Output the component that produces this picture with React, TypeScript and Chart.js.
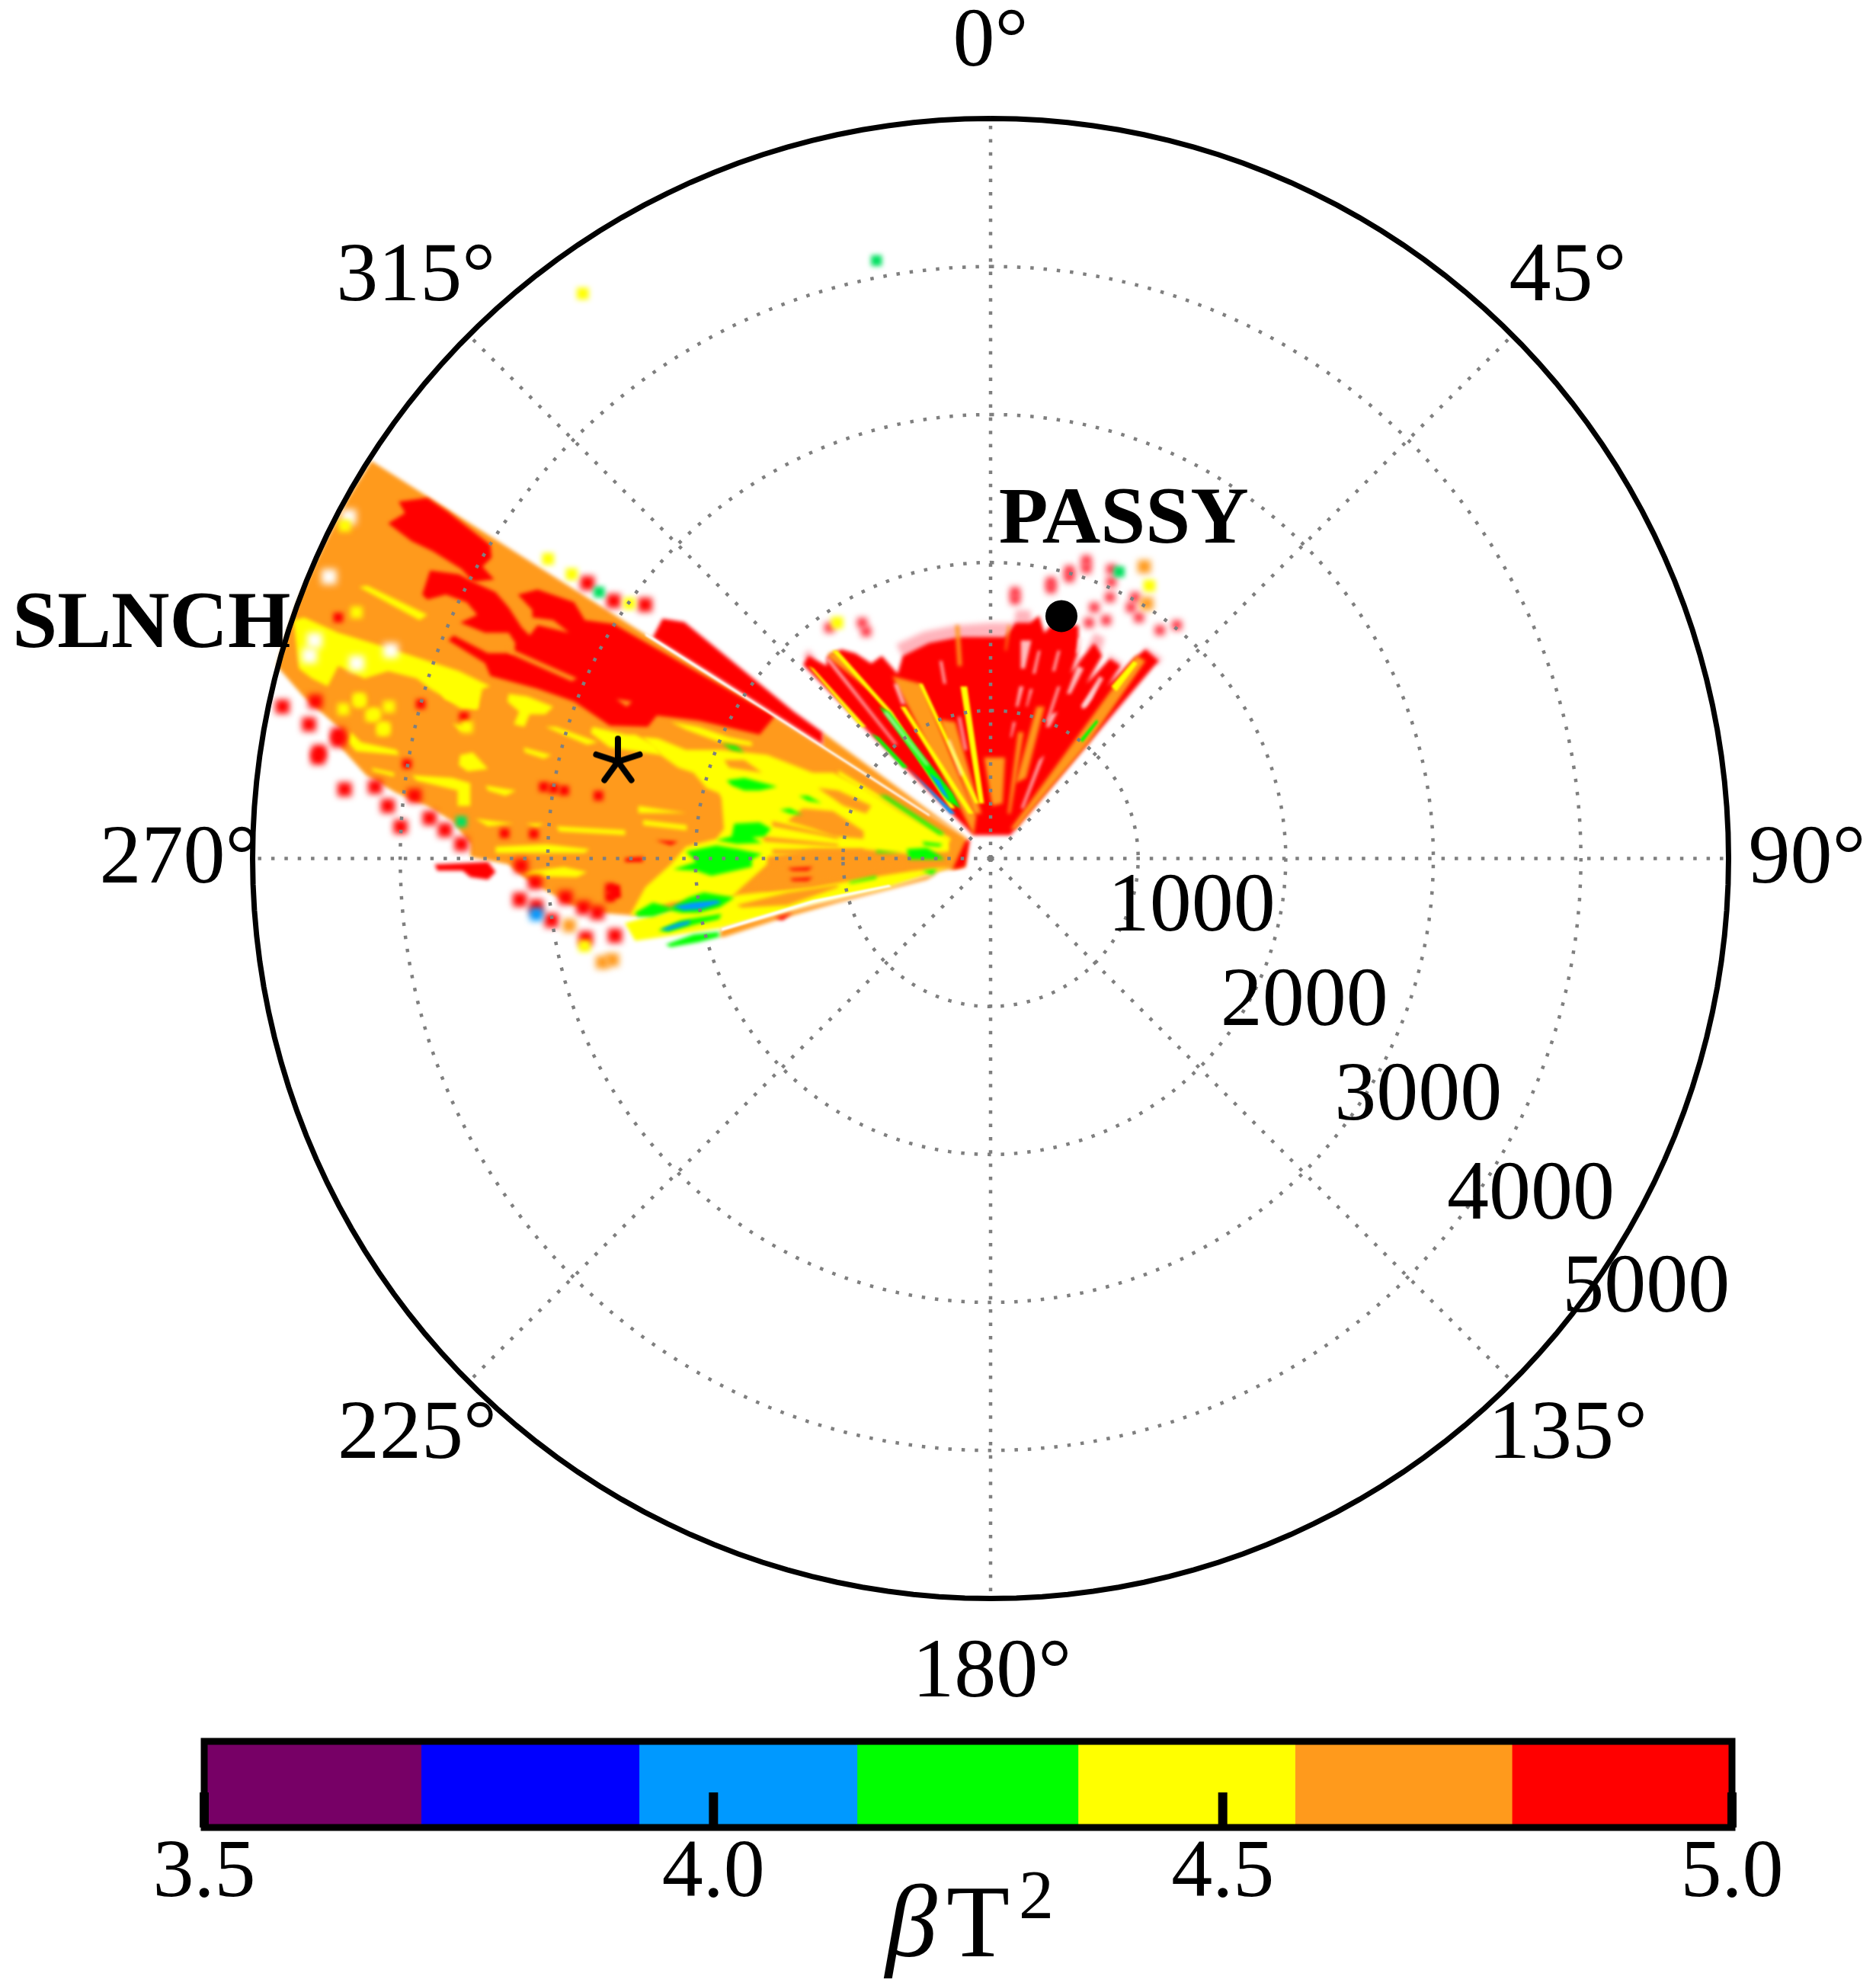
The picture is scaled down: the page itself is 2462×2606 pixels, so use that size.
import React, { useEffect, useRef } from "react";
import { Chart, registerables } from "chart.js";

Chart.register(...registerables);

// ---------- polar axes ----------
const angleTicks = [0, 45, 90, 135, 180, 225, 270, 315];
const rangeTicks = [1000, 2000, 3000, 4000, 5000];

// ---------- heat-map regions: flat east,north lists in metres from the radar ----------
const orangeBase = [
  [-158,142,-4186,2687,-4350,2426,-4514,2107,-4679,1752,-4777,1468,-4827,1302,-4650,1100,-4393,871,-4393,751,-4221,562,-4014,441,-3808,355,-3636,252,-3515,97,-3515,11,-3257,-40,-3154,-126,-2982,-229,-2827,-315,-2638,-367,-2432,-384,-1720,-331,-191,-59],
  [-1128,852,-158,142,-1128,755],
];
const redLeft = [
  [-4072,2265,-3957,2334,-4001,2411,-3806,2437,-3664,2342,-3379,2119,-3370,2033,-3433,1972,-3353,1886,-3495,1869,-3575,1955,-3770,2076,-3912,2144],
  [-3841,1783,-3788,1947,-3592,1921,-3495,1869,-3344,1800,-3255,1697,-3166,1560,-3113,1508,-3059,1577,-2846,1525,-2953,1611,-3095,1628,-3095,1680,-3193,1783,-3059,1818,-2811,1732,-2739,1611,-2544,1585,-1452,960,-1555,837,-1744,880,-1968,932,-2252,966,-2312,889,-2570,897,-2811,1061,-3059,1147,-3379,1233,-3415,1319,-3664,1474,-3628,1508,-3397,1388,-3219,1388,-3210,1456,-3255,1525,-3415,1525,-3584,1594,-3468,1646,-3539,1732,-3681,1783,-3806,1749],
  [-2279,1495,-2213,1621,-2065,1598,-1325,994,-1128,852,-1128,770,-1522,1020,-1884,1250],
  [-3756,-40,-3395,-23,-3343,-92,-3395,-143,-3515,-126,-3567,-83,-3739,-83],
  [-1418,-264,-1228,-229,-1228,-264,-1366,-298],
  [-2570,-178,-2501,-178,-2493,-264,-2570,-281],
];
const yellowLeft = [
  [-4268,1835,-4214,1843,-3806,1646,-3859,1611],
  [-4712,1611,-4641,1628,-4410,1525,-4126,1439,-3859,1353,-3592,1267,-3379,1164,-3433,1147,-3468,1009,-3575,1009,-3699,1095,-3788,1147,-3877,1216,-4072,1267,-4232,1216,-4410,1302,-4481,1164,-4588,1216,-4676,1284],
  [-3255,1112,-3130,1095,-2953,1026,-3006,975,-3113,975,-3148,889,-3219,906,-3184,992,-3264,1061],
  [-3006,889,-2935,889,-2651,786,-2722,768],
  [-2686,889,-2455,837,-2398,837,-2260,768,-2226,700,-2346,717,-2570,751,-2700,850],
  [-4324,854,-4255,785,-4014,734,-3997,699,-4289,725,-4341,785],
  [-4186,613,-4031,579,-4031,553,-4169,588],
  [-3911,562,-3636,545,-3515,510,-3515,355,-3601,355,-3601,459,-3877,527],
  [-3412,493,-3206,459,-3275,424,-3395,459],
  [-3584,699,-3498,717,-3395,605,-3533,588,-3593,631],
  [-3154,751,-2965,699,-3017,674,-3145,717],
  [-3636,914,-3515,880,-3584,863],
  [-3481,269,-3223,235,-3395,218],
  [-3137,235,-3017,235,-3069,209],
  [-2931,218,-2466,192,-2466,158,-2914,183],
  [-3343,80,-2999,97,-2707,63,-2741,37,-3343,37],
  [-3154,-92,-2879,-57,-2724,-92,-2793,-126,-3120,-118],
  [-3739,1181,-3464,1129,-3464,1009,-3567,1043,-3687,1078],
  [-2377,355,-2213,331,-2048,308,-2377,308],
  [-2344,260,-2048,225,-2048,190,-2344,225],
  [-2346,820,-2243,811,-2054,734,-1813,734,-1504,700,-1194,579,-1056,579,-850,476,-609,321,-265,132,-265,46,-540,29,-850,63,-1194,63,-1504,12,-1504,-40,-1676,-195,-1744,-264,-2157,-298,-2398,-384,-2432,-384,-2329,-195,-2157,-40,-2054,80,-1848,132,-1796,201,-1813,407,-1830,442,-1916,476,-2002,579,-2106,614,-2226,700],
  [-2157,923,-1968,889,-1762,820,-1607,786,-1607,760,-1848,794,-2054,872],
  [-2467,-436,-2157,-350,-1710,-246,-1194,-195,-575,-92,-265,-57,-678,-195,-1194,-298,-1813,-470,-2278,-539,-2398,-556],
  [-1022,596,-265,132,-265,115,-1022,562],
];
const orangeOverlay = [
  [-3255,1422,-2791,1216,-2829,1198,-3255,1388],
  [-2526,1078,-2420,1061,-2455,1026],
  [-1796,665,-1658,665,-1538,579,-1762,614],
  [-1160,476,-1022,459,-798,356,-833,304,-988,356],
  [-1263,338,-1056,321,-850,184,-850,132,-1056,149,-1194,201,-1366,252],
  [-1469,252,-1022,149,-1022,132,-1469,218],
  [-1538,149,-1022,98,-1022,80,-1521,115],
  [-1469,63,-850,63,-850,29,-1469,29],
  [-1607,-178,-1504,-74,-1366,-23,-1022,12,-558,-23,-558,-74,-850,-100,-1194,-178,-1504,-212],
  [-1710,-315,-1366,-229,-1022,-178,-1022,-195,-1366,-315,-1676,-332],
  [-265,115,-145,132,-162,-57,-265,-74],
  [-1830,-530,-1813,-479,-1194,-315,-678,-195,-334,-92,-420,-143,-1022,-298,-1452,-418,-1796,-530],
];
const redAccents = [
  [-1366,-66,-1194,-57,-1228,-83,-1332,-83],
  [-1349,-135,-1194,-126,-1228,-152,-1332,-152],
  [-1452,-401,-1332,-367,-1400,-418],
  [-2260,123,-2106,115,-2157,89],
  [-2467,3,-2346,12,-2346,-23,-2467,-23],
  [-162,115,-128,132,-162,-57,-248,-74],
];
const greenLeft = [
  [-1779,528,-1658,545,-1435,485,-1555,459,-1658,459,-1744,493],
  [-1813,777,-1710,760,-1658,717,-1744,734],
  [-1289,424,-1228,424,-1134,373,-1228,390],
  [-1418,330,-1349,338,-1263,295,-1349,304],
  [-1727,235,-1555,244,-1478,201,-1521,149,-1607,141,-1538,106,-1710,98,-1848,123,-1744,149],
  [-2054,46,-1848,89,-1693,63,-1538,29,-1607,-6,-1607,-57,-1882,-117,-1985,-83,-2140,-74,-1985,-23,-2037,29],
  [-747,433,-695,424,-300,166,-334,158],
  [-558,63,-420,72,-351,29,-300,-6,-540,-6],
  [-454,115,-317,98,-334,80,-437,89],
  [-764,55,-592,37,-764,37],
  [-454,-83,-351,-74,-386,-109],
  [-953,-160,-764,-117,-764,-135,-936,-169],
  [-2398,-367,-2278,-298,-2157,-332,-2037,-264,-1934,-229,-1727,-264,-1830,-332,-1968,-367,-2088,-367,-2157,-350,-2278,-393,-2381,-393],
  [-2243,-487,-2088,-418,-1813,-375,-1830,-410,-1985,-444,-2174,-496],
  [-2192,-582,-2002,-513,-1830,-496,-1830,-530,-1968,-565,-2157,-599],
];
const blueLeft = [
  [-2140,-324,-2020,-298,-1848,-281,-1813,-298,-1951,-341,-2071,-350],
  [-2226,-479,-2106,-436,-2020,-418,-2037,-444,-2174,-487],
];
const whiteLeft = [
  [-2328,1525,-1522,1016,-404,297,-404,285,-1522,1000,-2328,1505],
  [-1813,-470,-1194,-281,-678,-178,-661,-190,-1194,-301,-1813,-491],
];
const pinkRight = [
  [-629,1447,-442,1533,-229,1576,20,1593,171,1593,180,1679,277,1679,295,1585,197,1499,-194,1490,-585,1361],
  [1059,1430,1175,1352,1139,1301,1050,1387],
  [801,1387,908,1318,855,1266],
  [713,1524,784,1490,748,1370,659,1404],
  [588,1370,641,1352,606,1284],
  [-1260,1370,-1224,1413,-1171,1352,-1224,1301],
];
const redRight = [
  [-105,157,-816,854,-1260,1309,-1224,1370,-1100,1301,-1100,1361,-1002,1413,-905,1387,-798,1318,-727,1370,-620,1249,-585,1370,-407,1456,-194,1499,108,1499,180,1593,277,1593,339,1641,375,1524,419,1576,606,1576,606,1404,553,1249,641,1370,713,1456,766,1370,659,1180,819,1352,890,1301,801,1163,979,1352,1059,1413,1148,1335,144,157],
];
const orangeRight = [
  [-1091,1387,-1029,1404,-798,1129,-1082,1352],
  [-656,1232,-460,1180,-87,286,-105,157,-194,338],
  [-336,940,-229,922,-52,303,-105,303],
  [-229,1576,-203,1576,-185,1301,-212,1301],
  [126,1576,144,1576,117,1404,108,1404],
  [-34,682,108,682,91,372,20,355],
  [322,1026,375,1026,251,544,180,510],
  [197,854,233,854,144,303,126,303],
  [997,1370,1059,1335,677,785,180,200,144,200],
];
const yellowRight = [
  [-1064,1404,-1029,1404,-656,991,-229,338,-265,338,-691,991],
  [-1224,1301,-1189,1284,-833,888,-869,888],
  [-602,1026,-567,1026,-105,303,-140,303],
  [-478,1180,-451,1180,-69,372,-96,372],
  [-194,1163,-149,1163,-34,372,-69,372],
  [828,1163,979,1335,1006,1318,863,1129],
];
const greenRight = [
  [-745,1026,-674,991,-247,441,-194,338,-283,389],
  [-798,845,-745,819,-549,613,-585,613],
  [615,802,730,940,739,922,633,785],
];
const blueRight = [
  [-407,578,-336,527,-265,389,-318,441],
  [-549,613,-513,578,-229,303,-265,303],
];
const whiteRight = [
  [-1109,1352,-1082,1352,-620,768,-638,768],
  [-718,991,-691,991,-407,630,-425,630],
  [624,1026,748,1198,695,1077,641,1008],
  [215,1473,286,1473,242,1284,215,1284],
  [331,1404,348,1404,313,1249,295,1249],
  [464,1404,482,1404,446,1266,428,1266],
  [206,1163,233,1163,197,1026,180,1026],
  [277,1146,295,1146,259,1026,250,1026],
  [464,1163,482,1163,402,922,384,922],
  [597,1301,641,1284,553,1112,526,1112],
  [748,1232,775,1215,659,1026,624,1026],
  [162,922,180,922,153,819,144,819],
  [419,974,464,991,410,888,384,888],
  [339,664,375,699,233,338,215,338],
  [-336,1335,-318,1335,-291,1180,-309,1180],
  [606,1490,641,1490,615,1387,588,1387],
  [-212,957,-194,957,-149,733,-167,733],
  [-283,802,-265,802,-176,561,-194,561],
  [-647,1180,-620,1180,-567,1043,-594,1043],
];

// ---------- isolated cells: east,north metres ----------
const redSpecks = [
  [-4788,1026],[-4565,1061],[-4608,906],[-4410,837],[-4410,800],[-4547,682],[-4540,720],[-4367,467],[-4160,484],[-4074,355],[-3894,424],[-3988,214],[-3791,273],[-3687,192],[-3576,97],[-3171,-49],[-3077,-161],[-3180,-278],[-3068,-324],[-2965,-419],[-2870,-264],[-2750,-333],[-2655,-367],[-2733,-539],[-2535,-522],[-2722,1861],[-2544,1740],[-2331,1714],
];
const redFanSpecks = [
  [659,2015],[659,1960],[544,1946],[544,1900],[419,1868],[419,1825],[176,1800],[176,1750],[828,1954],[828,1868],[819,1765],[988,1765],[961,1696],[1015,1628],[713,1696],[793,1610],[677,1593],[1157,1542],[1272,1576],[-1082,1559],[-860,1593],[-833,1533],
];
const redStreakCells = [[-3851,1043],[-3558,957],[-3945,639],[-3017,484],[-2879,459],[-2950,472],[-2647,424],[-3283,170],[-3085,166],[-2569,-200],[-2569,-260],[-4410,1628]];
const orangeSpecks = [[-2845,-453],[-2552,-685],[-2621,-702],[1051,1972],[1068,1722]];
const yellowSpecks = [[-2988,2024],[-2828,1921],[-2437,1723],[-2741,-591],[1086,1843],[-1029,1593],[-2753,3817],[-4286,1663],[-4365,2248],[-4264,1061],[-4066,1026],[-4186,966],[-4100,880],[-4375,1009],[-4268,1078],[-4161,975],[-4107,872],[-3539,889]];
const greenSpecks = [[-2642,1800],[-3576,249],[881,1937],[-763,4040]];
const blueSpecks = [[-3068,-376]];
const whiteSpecks = [[-4339,2308],[-4472,1904],[-4605,1370],[-4285,1319],[-4054,1405],[-4570,1474]];

// ---------- annotated sites ----------
const passySite = [[490, 1638]];
const starSite = [[-2515, 665]];

// ---------- label placement (metres) ----------
const angleLabelAt = [[0,5523],[3911,3937],[5532,0],[3911,-3885],[9,-5498],[-3885,-3885],[-5498,0],[-3894,3937]];
const rangeLabelAt = [[1372,-335],[2136,-969],[2908,-1612],[3671,-2281],[4451,-2907]];
const siteLabels = ["SLNCH", "PASSY"];
const siteLabelAt = [[-5669,1595],[918,2299]];

// ---------- colour bar ----------
const barEdges = [3.5, 3.713, 3.927, 4.141, 4.358, 4.571, 4.784, 5.0];
const barColors = ["#770066", "#0000ff", "#0099ff", "#00ff00", "#ffff00", "#ff9a1c", "#ff0000"];

const polar = (az: number, r: number) => ({
  x: r * Math.sin((az * Math.PI) / 180),
  y: r * Math.cos((az * Math.PI) / 180),
});
const sweep = Array.from({ length: 181 }, (_, i) => i * 2);
const EAST_READ_OFFSET = -10;

function polygonSets(list: number[][], color: string, blur: number) {
  return list.map((flat) => {
    const data: { x: number; y: number }[] = [];
    for (let i = 0; i < flat.length; i += 2) data.push({ x: flat[i] + EAST_READ_OFFSET, y: flat[i + 1] });
    return {
      data, blur,
      showLine: true, fill: "shape", tension: 0,
      backgroundColor: color, borderColor: "transparent", borderWidth: 0,
      pointRadius: 0,
    };
  });
}
function speckSet(list: number[][], color: string, radius: number, blur: number) {
  return {
    data: list.map(([x, y]) => ({ x: x + EAST_READ_OFFSET, y })), blur,
    showLine: false,
    pointStyle: "rect", pointRadius: radius, pointBorderWidth: 0,
    pointBackgroundColor: color, backgroundColor: color, borderColor: color,
  };
}
function starImage() {
  const c = document.createElement("canvas");
  c.width = 68; c.height = 68;
  const g = c.getContext("2d")!;
  g.strokeStyle = "#000"; g.lineWidth = 8; g.lineCap = "round";
  for (let k = 0; k < 5; k++) {
    const a = (k * 72 * Math.PI) / 180;
    g.beginPath(); g.moveTo(34, 36);
    g.lineTo(34 + 30 * Math.sin(a), 36 - 30 * Math.cos(a));
    g.stroke();
  }
  return c;
}

const CX = 1300, CY = 1126.5;
const MX = 5000 / 968.5, MY = 5000 / 971;
const SERIF = "'Liberation Serif'";
const DOTS = { borderColor: "#7f7f7f", borderWidth: 4.5, borderDash: [4.5, 12.9] };

export default function App() {
  const mainRef = useRef<HTMLCanvasElement>(null);
  const barRef = useRef<HTMLCanvasElement>(null);

  useEffect(() => {
    document.body.style.margin = "0";
    const datasets: any[] = [
      ...polygonSets(orangeBase, "#ff9a1c", 2.5),
      ...polygonSets(redLeft, "#ff0000", 2.5),
      ...polygonSets(yellowLeft, "#ffff00", 2.5),
      ...polygonSets(orangeOverlay, "#ff9a1c", 2.5),
      ...polygonSets(redAccents, "#ff0000", 2.5),
      ...polygonSets(greenLeft, "#00ff00", 2.5),
      ...polygonSets(blueLeft, "#0099ff", 2),
      ...polygonSets(whiteLeft, "#ffffff", 1.2),
      ...polygonSets(pinkRight, "#ffb4bc", 3.5),
      ...polygonSets(redRight, "#ff0000", 2.5),
      ...polygonSets(orangeRight, "#ff9a1c", 2.5),
      ...polygonSets(yellowRight, "#ffff00", 1.5),
      ...polygonSets(greenRight, "#00ff00", 1.5),
      ...polygonSets(blueRight, "#0099ff", 1.5),
      ...polygonSets(whiteRight, "rgba(255,235,235,0.8)", 2),
      speckSet(whiteSpecks, "#ffffff", 14, 5),
      speckSet(redSpecks, "#ff0000", 13, 4.5),
      speckSet(redFanSpecks, "#ff2838", 9, 4),
      speckSet(redStreakCells, "#ff0000", 9, 3),
      speckSet(orangeSpecks, "#ff9a1c", 12, 4),
      speckSet(yellowSpecks, "#ffff00", 11, 3.5),
      speckSet(greenSpecks, "#00e060", 10, 3),
      speckSet(blueSpecks, "#0099ff", 12, 4),
    ];
    rangeTicks.slice(0, -1).forEach((r) =>
      datasets.push({
        data: sweep.map((az) => polar(az, r)), blur: 0,
        showLine: true, tension: 0, pointRadius: 0, fill: false, ...DOTS,
      })
    );
    angleTicks.forEach((az) =>
      datasets.push({
        data: [polar(az, 0), polar(az, 5000)], blur: 0,
        showLine: true, tension: 0, pointRadius: 0, fill: false, ...DOTS,
      })
    );
    datasets.push({
      data: sweep.map((az) => polar(az, 5000)), blur: 0,
      showLine: true, tension: 0, pointRadius: 0, fill: false,
      borderColor: "#000000", borderWidth: 7,
    });
    datasets.push({
      data: passySite.map(([x, y]) => ({ x: x + EAST_READ_OFFSET, y })), blur: 0, showLine: false,
      pointStyle: "circle", pointRadius: 21, pointBackgroundColor: "#000", pointBorderWidth: 0,
    });
    datasets.push({
      data: starSite.map(([x, y]) => ({ x: x + EAST_READ_OFFSET, y })), blur: 0, showLine: false,
      pointStyle: starImage(), pointRadius: 34,
    });
    const n = datasets.length;
    datasets.forEach((d, i) => { d.order = n - i; d.clip = false; });

    const blurOf = (d: any) => (d && d.blur ? `blur(${d.blur}px)` : "none");
    const main = new Chart(mainRef.current!, {
      type: "scatter",
      data: { datasets },
      options: {
        responsive: false, animation: false, events: [],
        layout: { padding: 0, autoPadding: false },
        plugins: { legend: { display: false }, tooltip: { enabled: false }, title: { display: false } },
        scales: {
          x: { type: "linear", display: false, min: -CX * MX, max: (2462 - CX) * MX },
          y: { type: "linear", display: false, min: -(2606 - CY) * MY, max: CY * MY },
        },
      },
      plugins: [
        {
          id: "softCells",
          beforeDatasetsDraw(c: any) { c.ctx.filter = blurOf(c.data.datasets[0]); },
          afterDatasetDraw(c: any, args: any) { c.ctx.filter = blurOf(c.data.datasets[args.index + 1]); },
          afterDatasetsDraw(c: any) { c.ctx.filter = "none"; },
        },
        {
          id: "polarLabels",
          afterDraw(c: any) {
            const { ctx, scales: { x, y } } = c;
            ctx.save();
            ctx.fillStyle = "#000";
            ctx.textAlign = "center";
            ctx.textBaseline = "middle";
            ctx.font = `110px ${SERIF}`;
            angleTicks.forEach((a, i) => {
              const [e, no] = angleLabelAt[i];
              ctx.fillText(`${a}°`, x.getPixelForValue(e), y.getPixelForValue(no) + 3);
            });
            rangeTicks.forEach((r, i) => {
              const [e, no] = rangeLabelAt[i];
              ctx.fillText(String(r), x.getPixelForValue(e) - 2, y.getPixelForValue(no) + 1);
            });
            ctx.font = `bold 106px ${SERIF}`;
            siteLabels.forEach((s, i) => {
              const [e, no] = siteLabelAt[i];
              ctx.fillText(s, x.getPixelForValue(e) - 3, y.getPixelForValue(no) + 5);
            });
            ctx.restore();
          },
        },
      ],
    } as any);

    const bar = new Chart(barRef.current!, {
      type: "bar",
      data: {
        labels: ["βT²"],
        datasets: barColors.map((color, i) => ({
          data: [[barEdges[i], barEdges[i + 1]]],
          backgroundColor: color, borderWidth: 0,
          barPercentage: 1, categoryPercentage: 1,
        })),
      },
      options: {
        indexAxis: "y", responsive: false, animation: false, events: [],
        layout: { padding: { left: 268, right: 189, top: 45, bottom: 0 } },
        plugins: { legend: { display: false }, tooltip: { enabled: false } },
        scales: {
          y: { display: false, stacked: true },
          x: {
            type: "linear", min: 3.5, max: 5.0, position: "bottom",
            border: { display: false },
            grid: { display: false, drawTicks: false, tickLength: 0 },
            ticks: {
              stepSize: 0.5, autoSkip: false, maxRotation: 0, padding: -3,
              color: "#000", font: { family: "Liberation Serif", size: 108 },
              callback: (v: any) => Number(v).toFixed(1),
            },
            afterFit(s: any) { s.height = 208; s.paddingLeft = 0; s.paddingRight = 0; },
          },
        },
      },
      plugins: [
        {
          id: "barFrame",
          afterDatasetsDraw(c: any) {
            const { ctx, chartArea: a, scales: { x } } = c;
            ctx.save();
            ctx.fillStyle = "#000";
            x.ticks.forEach((t: any) => {
              ctx.fillRect(x.getPixelForValue(t.value) - 6, a.bottom - 46, 12, 46);
            });
            ctx.strokeStyle = "#000";
            ctx.lineWidth = 9;
            ctx.strokeRect(a.left, a.top, a.right - a.left, a.bottom - a.top);
            ctx.restore();
          },
        },
        {
          id: "barTitle",
          afterDraw(c: any) {
            const { ctx } = c;
            ctx.save();
            ctx.fillStyle = "#000";
            ctx.textAlign = "left";
            ctx.textBaseline = "alphabetic";
            ctx.font = `italic 136px ${SERIF}`;
            ctx.fillText("β", 1162, 327);
            ctx.font = `136px ${SERIF}`;
            ctx.fillText("T", 1242, 327);
            ctx.font = `92px ${SERIF}`;
            ctx.fillText("2", 1337, 277);
            ctx.restore();
          },
        },
      ],
    } as any);

    return () => { main.destroy(); bar.destroy(); };
  }, []);

  return (
    <div style={{ position: "absolute", left: 0, top: 0, width: 2462, height: 2606, background: "#fff" }}>
      <canvas ref={mainRef} width={2462} height={2606} style={{ position: "absolute", left: 0, top: 0 }} />
      <canvas ref={barRef} width={2462} height={366} style={{ position: "absolute", left: 0, top: 2240 }} />
    </div>
  );
}
